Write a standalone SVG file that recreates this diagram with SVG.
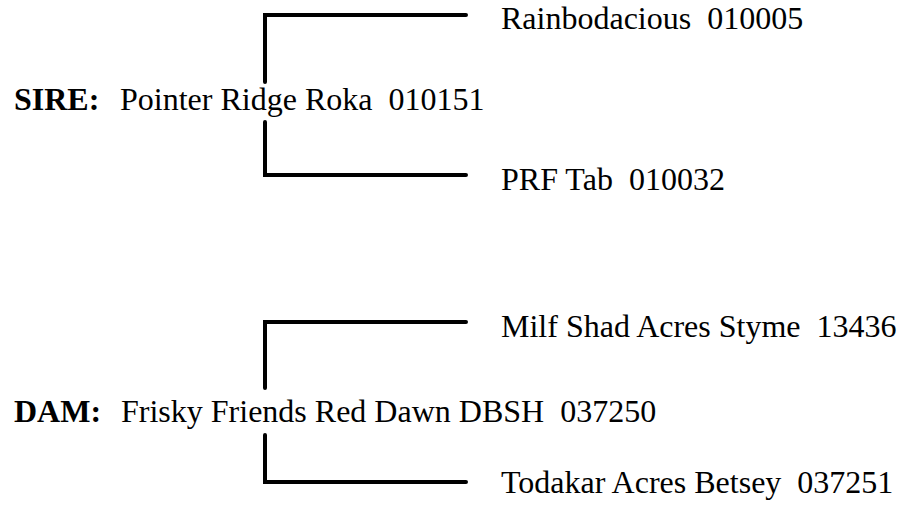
<svg xmlns="http://www.w3.org/2000/svg" width="900" height="506" viewBox="0 0 900 506">
<style>
.t{font-family:"Liberation Serif","Times New Roman",serif;font-size:32px;fill:#000}
.b{font-weight:bold}
.c{stroke:#000;stroke-width:4;fill:none;stroke-linecap:round;stroke-linejoin:miter}
</style>
<rect width="900" height="506" fill="#fff"/>
<g id="connectors">
<path class="c" d="M466,15 H265 V82"/>
<path class="c" d="M265,122 V175 H466"/>
<path class="c" d="M466,322 H265 V388"/>
<path class="c" d="M265,435 V482 H466"/>
</g>
<g id="sire"><text class="t b" x="14" y="110">SIRE:</text><text class="t" x="120" y="110">Pointer Ridge Roka&#160; 010151</text></g>
<g id="sire-sire"><text class="t" x="501" y="29">Rainbodacious&#160; 010005</text></g>
<g id="sire-dam"><text class="t" x="501" y="190">PRF Tab&#160; 010032</text></g>
<g id="dam"><text class="t b" x="14" y="422">DAM:</text><text class="t" x="121" y="422">Frisky Friends Red Dawn DBSH&#160; 037250</text></g>
<g id="dam-sire"><text class="t" x="501" y="337">Milf Shad Acres Styme&#160; 13436</text></g>
<g id="dam-dam"><text class="t" x="501" y="493">Todakar Acres Betsey&#160; 037251</text></g>
</svg>
